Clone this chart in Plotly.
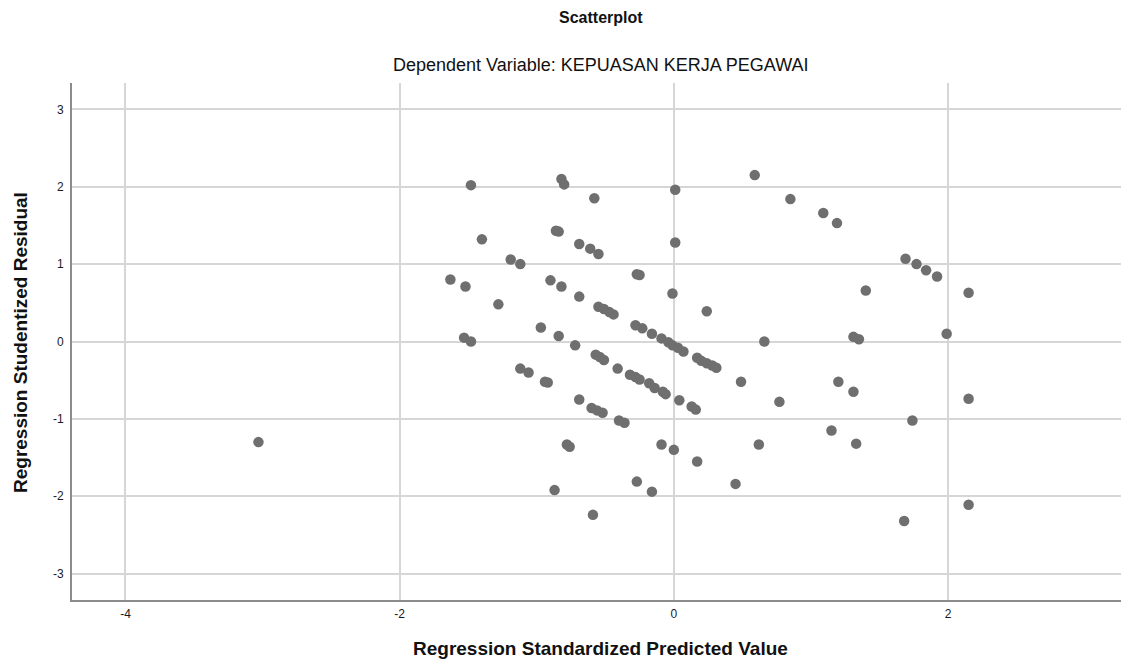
import plotly.graph_objects as go

predicted = [
    -3.03, -1.48, -0.82, -0.80, -0.58, 0.01, -1.40, -0.86, -0.84, -0.69,
    -0.61, -0.55, 0.01, -1.19, -1.12, -1.63, -1.52, -0.90, -0.82, -0.27,
    -0.25, -1.28, -0.69, -0.55, -0.51, -0.47, -0.44, -0.01, -0.97, -0.84,
    -0.72, -1.53, -1.48, -0.28, -0.23, -0.16, -0.09, -0.04, -0.01, 0.03,
    0.07, -0.57, -0.54, -0.51, -1.12, -1.06, -0.94, -0.92, -0.41, -0.32,
    -0.28, -0.25, -0.18, -0.14, -0.08, -0.06, 0.04, -0.69, -0.60, -0.56,
    -0.52, -0.40, -0.36, -0.78, -0.76, -0.09, 0.00, -0.87, -0.27, -0.16,
    -0.59, 0.59, 0.85, 1.09, 1.19, 1.69, 1.77, 1.84, 1.92, 1.40,
    2.15, 0.24, 0.66, 1.31, 1.35, 1.99, 0.17, 0.20, 0.24, 0.28,
    0.31, 0.49, 1.20, 1.31, 0.77, 2.15, 0.13, 0.16, 1.74, 1.15,
    0.62, 1.33, 0.17, 0.45, 2.15, 1.68,
]
residual = [
    -1.30, 2.02, 2.10, 2.03, 1.85, 1.96, 1.32, 1.43, 1.42, 1.26,
    1.20, 1.13, 1.28, 1.06, 1.00, 0.80, 0.71, 0.79, 0.71, 0.87,
    0.86, 0.48, 0.58, 0.45, 0.42, 0.38, 0.35, 0.62, 0.18, 0.07,
    -0.05, 0.05, 0.00, 0.21, 0.17, 0.10, 0.04, -0.01, -0.05, -0.08,
    -0.13, -0.17, -0.20, -0.24, -0.35, -0.40, -0.52, -0.53, -0.35, -0.43,
    -0.46, -0.49, -0.54, -0.60, -0.65, -0.68, -0.76, -0.75, -0.86, -0.89,
    -0.92, -1.02, -1.05, -1.33, -1.36, -1.33, -1.40, -1.92, -1.81, -1.94,
    -2.24, 2.15, 1.84, 1.66, 1.53, 1.07, 1.00, 0.92, 0.84, 0.66,
    0.63, 0.39, 0.00, 0.06, 0.03, 0.10, -0.21, -0.25, -0.28, -0.31,
    -0.34, -0.52, -0.52, -0.65, -0.78, -0.74, -0.84, -0.88, -1.02, -1.15,
    -1.33, -1.32, -1.55, -1.84, -2.11, -2.32,
]

x_ticks = [-4, -2, 0, 2]
y_ticks = [-3, -2, -1, 0, 1, 2, 3]

title = "Scatterplot"
subtitle = "Dependent Variable: KEPUASAN KERJA PEGAWAI"
x_title = "Regression Standardized Predicted Value"
y_title = "Regression Studentized Residual"

FONT = "Liberation Sans, Arial, sans-serif"

# figure is placed 8px in from the page corner (default body margin)
W, H = 1121, 661
L, R, T, B = 64, 0, 75, 69
PH = H - T - B
PW = W - L - R

fig = go.Figure(
    go.Scatter(
        x=predicted, y=residual, mode="markers",
        marker=dict(color="#6f6f6f", size=10.5, line=dict(width=0)),
        hoverinfo="x+y",
    )
)

fig.update_layout(
    width=W, height=H,
    margin=dict(l=L, r=R, t=T, b=B, autoexpand=False),
    paper_bgcolor="white", plot_bgcolor="white",
    showlegend=False,
    font=dict(family=FONT, color="#222222"),
)

fig.update_xaxes(
    range=[-4.39, 3.32], tickvals=x_ticks, ticktext=[str(v) for v in x_ticks],
    showgrid=True, gridcolor="#d6d6d6", gridwidth=1.5,
    zeroline=False, showline=True, linecolor="#8c8c8c", linewidth=2,
    ticks="outside", ticklen=2, tickcolor="rgba(0,0,0,0)",
    tickfont=dict(size=12, color="#1a1a1a", family=FONT),
)
fig.update_yaxes(
    range=[-3.34, 3.34], tickvals=y_ticks, ticktext=[str(v) for v in y_ticks],
    showgrid=True, gridcolor="#d6d6d6", gridwidth=1.5,
    zeroline=False, showline=True, linecolor="#8c8c8c", linewidth=2,
    ticks="outside", ticklen=4, tickcolor="rgba(0,0,0,0)",
    tickfont=dict(size=12, color="#1a1a1a", family=FONT),
)

def py(fy):
    return (H - B - fy) / PH

def px(fx):
    return (fx - L) / PW

annotations = [
    dict(text="<b>" + title + "</b>", x=0.5, y=py(10),
         font=dict(size=16, color="#111111", family=FONT)),
    dict(text=subtitle, x=0.5, y=py(57),
         font=dict(size=18, color="#111111", family=FONT)),
    dict(text="<b>" + x_title + "</b>", x=0.5, y=py(640),
         font=dict(size=19, color="#111111", family=FONT)),
    dict(text="<b>" + y_title + "</b>", x=px(12), y=py(335),
         textangle=-90, font=dict(size=19, color="#111111", family=FONT)),
]
for a in annotations:
    a.update(xref="paper", yref="paper", showarrow=False,
             xanchor="center", yanchor="middle")
fig.update_layout(annotations=annotations)

fig.write_html("out.html")
